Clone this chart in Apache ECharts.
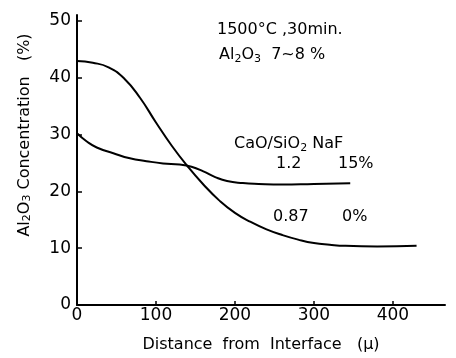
<!DOCTYPE html>
<html><head><meta charset="utf-8">
<script src="https://cdn.jsdelivr.net/npm/echarts@6/dist/echarts.min.js"></script>
<style>html,body{margin:0;padding:0;background:#fff}#c{width:456px;height:358px}</style>
</head><body><div id="c"></div>
<script>
// Distance from interface (μ) and Al2O3 concentration (%)
const xLow = [0, 20, 40, 60, 80, 100, 120, 140, 160, 180, 200, 220, 240, 260, 280, 300, 320, 340, 380, 430];
const yLow = [42.9, 42.6, 41.8, 39.8, 36.4, 32.1, 28.0, 24.4, 21.2, 18.4, 16.2, 14.6, 13.3, 12.3, 11.5, 10.9, 10.6, 10.4, 10.3, 10.4]; // CaO/SiO2 0.87, NaF 0%
const xHigh = [0, 12, 25, 46, 67, 88, 109, 130, 145, 160, 175, 190, 210, 230, 260, 300, 346];
const yHigh = [30.2, 28.8, 27.7, 26.7, 25.8, 25.3, 24.9, 24.7, 24.3, 23.5, 22.5, 21.8, 21.45, 21.3, 21.2, 21.3, 21.4]; // CaO/SiO2 1.2, NaF 15%
const xTicks = [0, 100, 200, 300, 400];
const yTicks = [0, 10, 20, 30, 40, 50];

const F = '"DejaVu Sans", sans-serif';
const chart = echarts.init(document.getElementById('c'));
const toPairs = (xs, ys) => xs.map((x, i) => [x, ys[i]]);
chart.setOption({
  animation: false,
  grid: { left: 77, right: 11, top: 15, bottom: 53 },
  xAxis: {
    type: 'value', min: 0, max: 466,
    axisLine: { lineStyle: { color: '#000', width: 2 } },
    axisTick: { inside: true, length: 4, customValues: xTicks, lineStyle: { color: '#000', width: 1.5 } },
    axisLabel: { customValues: xTicks, color: '#000', fontFamily: F, fontSize: 17, margin: 2 },
    splitLine: { show: false },
    name: 'Distance  from  Interface   (μ)', nameLocation: 'middle', nameGap: 32,
    nameTextStyle: { color: '#000', fontFamily: F, fontSize: 16 }
  },
  yAxis: {
    type: 'value', min: 0, max: 51,
    axisLine: { lineStyle: { color: '#000', width: 2 } },
    axisTick: { inside: true, length: 5, customValues: yTicks, lineStyle: { color: '#000', width: 1.5 } },
    axisLabel: { customValues: yTicks, color: '#000', fontFamily: F, fontSize: 17, margin: 6 },
    splitLine: { show: false },
    name: '{n|Al}{s|2}{n|O}{s|3}{n| Concentration   (%)}', nameLocation: 'middle', nameGap: 44, nameRotate: 90,
    nameTextStyle: {
      color: '#000', fontFamily: F, fontSize: 16, padding: [0, 0, 0, 50],
      rich: { n: { fontFamily: F, fontSize: 16, color: '#000' }, s: { fontFamily: F, fontSize: 11, color: '#000', verticalAlign: 'bottom', padding: [6, 0, 0, 0] } }
    }
  },
  series: [
    { type: 'line', data: toPairs(xLow, yLow), smooth: 0.5, symbol: 'none', lineStyle: { color: '#000', width: 2 } },
    { type: 'line', data: toPairs(xHigh, yHigh), smooth: 0.5, symbol: 'none', lineStyle: { color: '#000', width: 2 } }
  ],
  graphic: [
    { type: 'text', left: 217, top: 22, style: { text: '1500°C ,30min.', font: '16px ' + F, fill: '#000' } },
    { type: 'text', left: 219, top: 47, style: {
      text: '{n|Al}{s|2}{n|O}{s|3}{n|  7~8 %}', fill: '#000',
      rich: { n: { fontFamily: F, fontSize: 16, fill: '#000' }, s: { fontFamily: F, fontSize: 11, fill: '#000', padding: [8, 0, 0, 0] } } } },
    { type: 'text', left: 234, top: 136, style: {
      text: '{n|CaO/SiO}{s|2}{n| NaF}', fill: '#000',
      rich: { n: { fontFamily: F, fontSize: 16, fill: '#000' }, s: { fontFamily: F, fontSize: 11, fill: '#000', padding: [8, 0, 0, 0] } } } },
    { type: 'text', left: 276, top: 156, style: { text: '1.2', font: '16px ' + F, fill: '#000' } },
    { type: 'text', left: 338, top: 156, style: { text: '15%', font: '16px ' + F, fill: '#000' } },
    { type: 'text', left: 273, top: 209, style: { text: '0.87', font: '16px ' + F, fill: '#000' } },
    { type: 'text', left: 342, top: 209, style: { text: '0%', font: '16px ' + F, fill: '#000' } }
  ]
});
</script></body></html>
